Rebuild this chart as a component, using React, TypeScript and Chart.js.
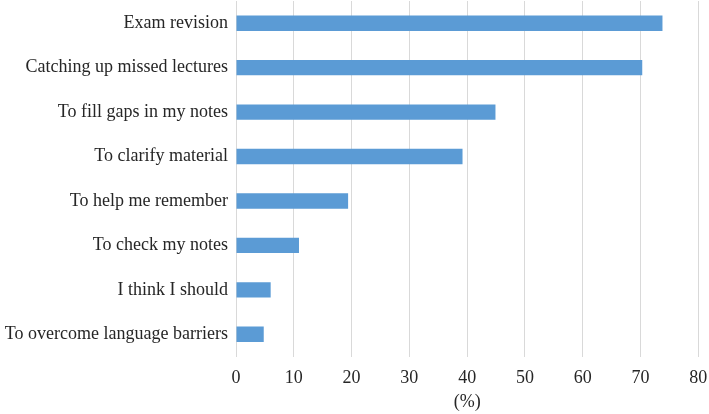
import React, { useEffect, useRef } from "react";
import { Chart, registerables } from "chart.js";

Chart.register(...registerables);

const categories = [
  "Exam revision",
  "Catching up missed lectures",
  "To fill gaps in my notes",
  "To clarify material",
  "To help me remember",
  "To check my notes",
  "I think I should",
  "To overcome language barriers",
];
const percentages = [73.8, 70.3, 44.9, 39.2, 19.4, 10.9, 6.0, 4.8];
const xMin = 0;
const xMax = 80;
const xStep = 10;
const xTitle = "(%)";

const FONT = "'Liberation Serif', 'Times New Roman', serif";
const TEXT = "#262626";
const GRID = "#D9D9D9";

export default function App() {
  const ref = useRef<HTMLCanvasElement | null>(null);

  useEffect(() => {
    if (!ref.current) return;
    const chart = new Chart(ref.current, {
      type: "bar",
      data: {
        labels: categories,
        datasets: [
          {
            data: percentages,
            backgroundColor: "#5B9BD5",
            borderWidth: 0,
            categoryPercentage: 1,
            barPercentage: 0.345,
          },
        ],
      },
      options: {
        indexAxis: "y",
        animation: false,
        responsive: true,
        maintainAspectRatio: false,
        layout: { padding: { top: 1, right: 10.7, bottom: 0, left: 0 } },
        plugins: {
          legend: { display: false },
          tooltip: { enabled: false },
        },
        scales: {
          x: {
            type: "linear",
            min: xMin,
            max: xMax,
            ticks: {
              stepSize: xStep,
              padding: 11,
              color: TEXT,
              font: { family: FONT, size: 18 },
            },
            grid: { display: true, color: GRID, lineWidth: 1, drawTicks: false },
            border: { display: false },
            title: {
              display: true,
              text: xTitle,
              color: TEXT,
              font: { family: FONT, size: 18 },
              padding: { top: 0, bottom: 1 },
            },
            afterFit: (scale: any) => {
              scale.height = 57.5;
              scale.paddingLeft = 0;
              scale.paddingRight = 0;
              scale.paddingTop = 0;
              scale.paddingBottom = 0;
            },
          },
          y: {
            ticks: {
              padding: 8,
              color: TEXT,
              font: { family: FONT, size: 18 },
            },
            grid: { display: false, drawTicks: false },
            border: { display: true, color: GRID, width: 1 },
            afterFit: (scale: any) => {
              scale.width = 236;
              scale.paddingLeft = 0;
              scale.paddingRight = 0;
              scale.paddingTop = 0;
              scale.paddingBottom = 0;
            },
          },
        },
      },
    });
    return () => chart.destroy();
  }, []);

  return (
    <div style={{ position: "absolute", left: 0, top: 0, width: 709, height: 414, background: "#fff" }}>
      <canvas ref={ref} />
    </div>
  );
}
